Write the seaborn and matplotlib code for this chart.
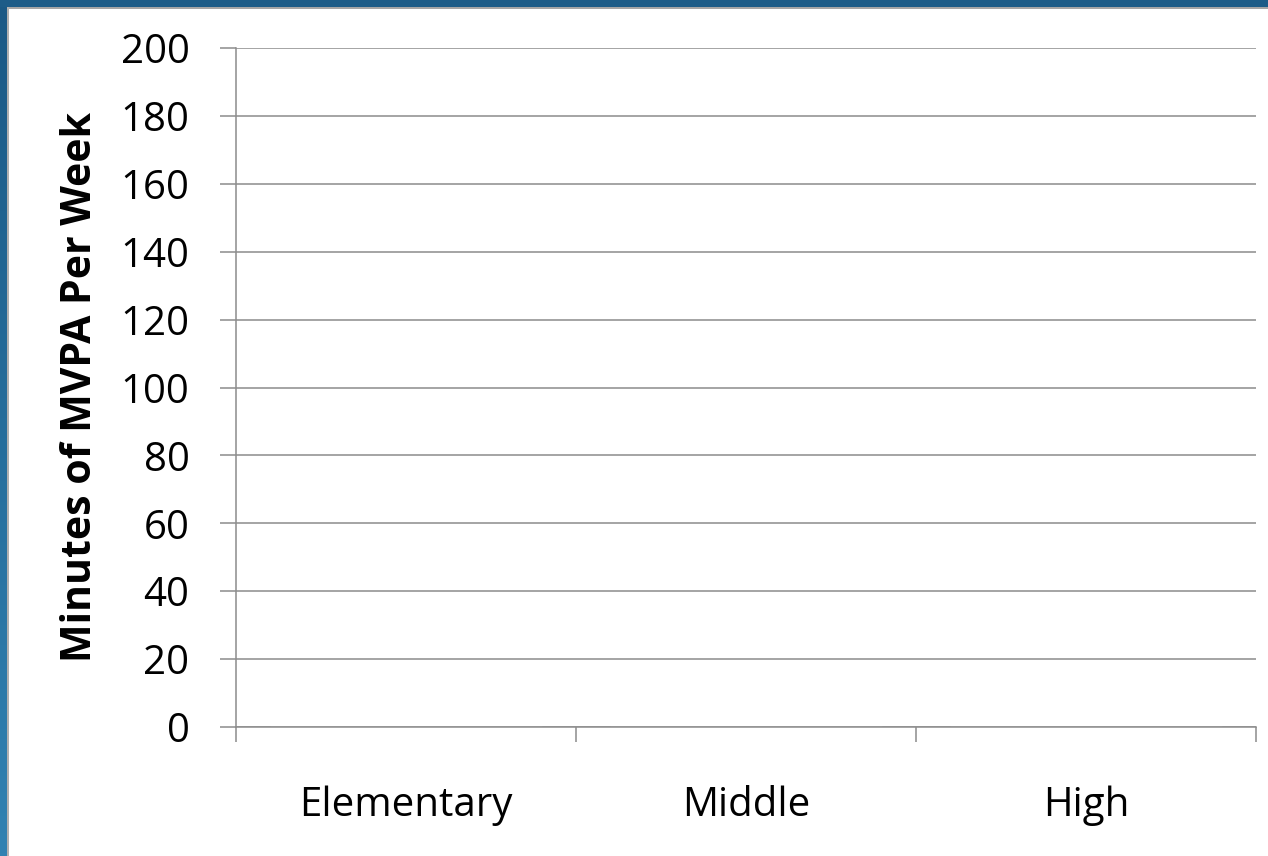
import numpy as np
import matplotlib
matplotlib.use("Agg")
import matplotlib.pyplot as plt
import seaborn as sns
from matplotlib.patches import Rectangle

# School levels and weekly MVPA minutes (no bars recorded yet)
levels = ["Elementary", "Middle", "High"]
mvpa_minutes = [0, 0, 0]
y_ticks = [0, 20, 40, 60, 80, 100, 120, 140, 160, 180, 200]
y_label = "Minutes of MVPA Per Week"

sns.set_theme(style="white")
plt.rcParams["font.family"] = ["Open Sans", "DejaVu Sans"]

W, H = 1268, 856
fig = plt.figure(figsize=(W / 100, H / 100), dpi=100)
fig.patch.set_facecolor("white")

# Blue slide frame: gradient strip on the left, solid band on top
strip = fig.add_axes([0, 0, 7 / W, 1])
grad = np.linspace(0, 1, 256).reshape(-1, 1)
cmap = matplotlib.colors.LinearSegmentedColormap.from_list("frame", ["#1b5985", "#3182b2"])
strip.imshow(grad, aspect="auto", cmap=cmap, extent=[0, 1, 0, 1], origin="upper")
strip.set_axis_off()
fig.add_artist(Rectangle((0, 1 - 7 / H), 1, 7 / H, transform=fig.transFigure,
                         facecolor="#1d5c88", edgecolor="none", zorder=5))
fig.add_artist(Rectangle((7 / W, 1 - 9 / H), 1, 2 / H, transform=fig.transFigure,
                         facecolor="#a6a6a6", edgecolor="none", zorder=5))
fig.add_artist(Rectangle((7 / W, 0), 1.5 / W, 1 - 7 / H, transform=fig.transFigure,
                         facecolor="#b0b0b0", edgecolor="none", zorder=5))

ax = fig.add_axes([236 / W, 129 / H, 1020 / W, 679 / H])
sns.barplot(x=levels, y=mvpa_minutes, ax=ax, color="#4f81bd")

ax.set_ylim(0, 200)
ax.set_xlim(-0.5, len(levels) - 0.5)
ax.set_yticks(y_ticks)
ax.set_yticklabels([str(v) for v in y_ticks], fontsize=29, color="black")
ax.yaxis.grid(True, color="#8c8c8c", linewidth=1.1)
ax.set_axisbelow(True)

ax.set_xticks(range(len(levels)))
ax.set_xticklabels(levels, fontsize=29, color="black")
ax.set_xticks(np.arange(-0.5, len(levels), 1.0), minor=True)
ax.tick_params(axis="x", which="major", bottom=True, length=0, pad=42)
ax.tick_params(axis="x", which="minor", bottom=True, length=11, width=1.1,
               color="#8c8c8c", direction="out")
ax.tick_params(axis="y", which="major", left=True, length=11.5, width=1.1,
               color="#8c8c8c", direction="out", pad=22)

ax.set_xlabel("")
ax.set_ylabel(y_label, fontsize=29.5, fontweight="bold", color="black", labelpad=14)

for side in ("top", "right"):
    ax.spines[side].set_visible(False)
for side in ("left", "bottom"):
    ax.spines[side].set_color("#8c8c8c")
    ax.spines[side].set_linewidth(1.1)

fig.savefig("out.png", dpi=100, facecolor="white")
